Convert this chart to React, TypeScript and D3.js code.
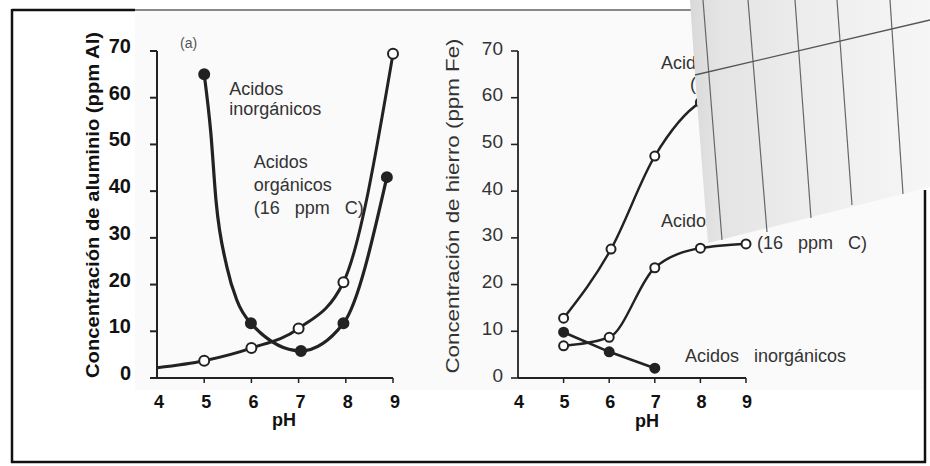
import * as d3 from 'd3';

const W = 930;
const H = 466;

const alInorgPH = [5, 5.14, 5.25, 5.48, 5.69, 5.99, 7.05, 7.95, 8.87];
const alInorg = [65, 52.5, 38, 23.8, 16.7, 11.7, 5.8, 11.7, 43];
const alInorgMarked = [true, false, false, false, false, true, true, true, true];
const alOrgPH = [4, 5, 6, 7, 7.95, 9];
const alOrg = [2.2, 3.7, 6.4, 10.6, 20.5, 69.4];
const alOrgMarked = [false, true, true, true, true, true];

// (b) hierro
const feOrgHighPH = [5, 6.04, 7, 8, 9];
const feOrgHigh = [12.8, 27.6, 47.5, 59, 62];
const feOrgLowPH = [5, 6, 7, 8, 9];
const feOrgLow = [6.9, 8.7, 23.6, 27.8, 28.7];
const feInorgPH = [5, 6, 7];
const feInorg = [9.8, 5.6, 2.1];

const xTicks = [4, 5, 6, 7, 8, 9];
const yTicks = [0, 10, 20, 30, 40, 50, 60, 70];

const FONT = '"Liberation Sans", Arial, Helvetica, sans-serif';
const INK = '#222';

type Pt = [number, number];
const zip = (xs: number[], ys: number[]): Pt[] => xs.map((x, i) => [x, ys[i]]);

export default function App() {
  const y = d3.scaleLinear().domain([0, 70]).range([378, 51]);
  const xL = d3.scaleLinear().domain([4, 9]).range([157, 393]);
  const xR = d3.scaleLinear().domain([4, 9]).range([518, 746]);

  const smooth = (x: d3.ScaleLinear<number, number>) =>
    d3.line<Pt>().x((d) => x(d[0])).y((d) => y(d[1])).curve(d3.curveMonotoneX);
  const straight = (x: d3.ScaleLinear<number, number>) =>
    d3.line<Pt>().x((d) => x(d[0])).y((d) => y(d[1]));

  const alInorgPts = zip(alInorgPH, alInorg);
  const alOrgPts = zip(alOrgPH, alOrg);
  const feHighPts = zip(feOrgHighPH, feOrgHigh);
  const feLowPts = zip(feOrgLowPH, feOrgLow);
  const feInorgPts = zip(feInorgPH, feInorg);

  const marker = (x: d3.ScaleLinear<number, number>, d: Pt, filled: boolean, key: string, r = 5) => (
    <circle
      key={key}
      cx={x(d[0])}
      cy={y(d[1])}
      r={r}
      fill={filled ? INK : '#fff'}
      stroke={INK}
      strokeWidth={2}
    />
  );

  const txt = { fontFamily: FONT, fill: '#333', whiteSpace: 'pre' as const };
  const bold = { ...txt, fill: '#111' };

  return (
    <svg width={W} height={H} style={{ position: 'fixed', left: 0, top: 0, background: '#fff' }}>
      <defs>
        <linearGradient id="paper" x1="0" x2="1" y1="0" y2="0">
          <stop offset="0" stopColor="#d9d9d9" />
          <stop offset="0.12" stopColor="#e4e4e4" />
          <stop offset="0.55" stopColor="#eeeeee" />
          <stop offset="1" stopColor="#f6f6f6" />
        </linearGradient>
      </defs>

      {/* faint scan tone */}
      <rect x={135} y={10} width={790} height={380} fill="#fafafa" />

      {/* frame */}
      <line x1={12} x2={135} y1={10} y2={10} stroke="#111" strokeWidth={2.5} />
      <line x1={135} x2={700} y1={10} y2={10} stroke="#888" strokeWidth={2} />
      <line x1={12} x2={12} y1={9} y2={463} stroke="#111" strokeWidth={2.5} />
      <line x1={11} x2={926} y1={462} y2={462} stroke="#111" strokeWidth={2.5} />
      <line x1={925} x2={925} y1={190} y2={463} stroke="#111" strokeWidth={2.5} />

      {/* ---------- panel (a) ---------- */}
      <g>
        <line x1={xL(4)} x2={xL(4)} y1={y(70)} y2={y(0)} stroke={INK} strokeWidth={2} />
        <line x1={xL(4)} x2={xL(9)} y1={y(0)} y2={y(0)} stroke={INK} strokeWidth={2} />
        {yTicks.map((t) => (
          <g key={t}>
            <line x1={xL(4) - 7} x2={xL(4)} y1={y(t)} y2={y(t)} stroke={INK} strokeWidth={2} />
            <text x={131} y={y(t) - 5} textAnchor="end" dominantBaseline="central" fontSize={20} fontWeight={700} style={bold}>
              {t}
            </text>
          </g>
        ))}
        {xTicks.map((t) => (
          <g key={t}>
            {t > 4 && <line x1={xL(t)} x2={xL(t)} y1={y(0)} y2={y(0) + 5} stroke={INK} strokeWidth={1.5} />}
            <text x={xL(t) + 2} y={408} textAnchor="middle" fontSize={18} fontWeight={700} style={bold}>
              {t}
            </text>
          </g>
        ))}
        <text x={284} y={426} textAnchor="middle" fontSize={18} fontWeight={700} style={bold}>
          pH
        </text>
        <text
          transform="translate(92,205) rotate(-90)"
          textAnchor="middle"
          dominantBaseline="central"
          fontSize={19}
          fontWeight={700}
          textLength={346}
          lengthAdjust="spacingAndGlyphs"
          style={bold}
        >
          Concentración de aluminio (ppm Al)
        </text>
        <text x={180} y={48} fontSize={14} style={{ ...txt, fill: '#555' }}>(a)</text>

        <path d={smooth(xL)(alOrgPts) ?? ''} fill="none" stroke={INK} strokeWidth={3} />
        <path d={smooth(xL)(alInorgPts) ?? ''} fill="none" stroke={INK} strokeWidth={3.2} />
        {alOrgPts.map((d, i) => (alOrgMarked[i] ? marker(xL, d, false, 'ao' + i) : null))}
        {alInorgPts.map((d, i) => (alInorgMarked[i] ? marker(xL, d, true, 'ai' + i) : null))}

        <text x={xL(5.53)} y={95} fontSize={18} style={txt}>Acidos</text>
        <text x={xL(5.53)} y={115} fontSize={18} style={txt}>inorgánicos</text>
        <text x={xL(6.05)} y={168} fontSize={18} style={txt}>Acidos</text>
        <text x={xL(6.05)} y={191} fontSize={18} style={txt}>orgánicos</text>
        <text x={xL(6.05)} y={214} fontSize={18} style={txt}>{'(16   ppm   C)'}</text>
      </g>

      {/* ---------- panel (b) ---------- */}
      <g>
        <line x1={xR(4)} x2={xR(4)} y1={y(70)} y2={y(0)} stroke={INK} strokeWidth={1.8} />
        <line x1={xR(4)} x2={xR(9)} y1={y(0)} y2={y(0)} stroke={INK} strokeWidth={1.8} />
        {yTicks.map((t) => (
          <g key={t}>
            <line x1={xR(4) - 7} x2={xR(4)} y1={y(t)} y2={y(t)} stroke={INK} strokeWidth={1.6} />
            <text x={503} y={y(t) - 3} textAnchor="end" dominantBaseline="central" fontSize={19} style={txt}>
              {t}
            </text>
          </g>
        ))}
        {xTicks.map((t) => (
          <g key={t}>
            {t > 4 && <line x1={xR(t)} x2={xR(t)} y1={y(0)} y2={y(0) + 5} stroke={INK} strokeWidth={1.5} />}
            <text x={xR(t) + 1} y={408} textAnchor="middle" fontSize={18} fontWeight={700} style={bold}>
              {t}
            </text>
          </g>
        ))}
        <text x={647} y={427} textAnchor="middle" fontSize={18} fontWeight={700} style={bold}>
          pH
        </text>
        <text
          transform="translate(453,206) rotate(-90)"
          textAnchor="middle"
          dominantBaseline="central"
          fontSize={18}
          textLength={335}
          lengthAdjust="spacingAndGlyphs"
          style={txt}
        >
          Concentración de hierro (ppm Fe)
        </text>

        <path d={smooth(xR)(feHighPts) ?? ''} fill="none" stroke={INK} strokeWidth={2.4} />
        <path d={smooth(xR)(feLowPts) ?? ''} fill="none" stroke={INK} strokeWidth={2.4} />
        <path d={straight(xR)(feInorgPts) ?? ''} fill="none" stroke={INK} strokeWidth={2.6} />
        {feHighPts.map((d, i) => marker(xR, d, false, 'fh' + i, 4.5))}
        {feLowPts.map((d, i) => marker(xR, d, false, 'fl' + i, 4.5))}
        {feInorgPts.map((d, i) => marker(xR, d, true, 'fi' + i, 4.5))}

        <text x={661} y={69} fontSize={18} style={txt}>Acidos orgánicos</text>
        <text x={690} y={90} fontSize={18} style={txt}>{'(32   ppm   C)'}</text>
        <text x={661} y={227} fontSize={18} style={txt}>Acidos</text>
        <text x={xR(9) + 11} y={249} fontSize={18} style={txt}>{'(16   ppm   C)'}</text>
        <text x={685} y={362} fontSize={18} style={txt}>{'Acidos   inorgánicos'}</text>
      </g>

      {/* pasted paper strip covering the top-right corner of the scan */}
      <polygon points="690,0 930,0 930,187 708,243 695,75" fill="url(#paper)" />
      {[
        [703, 722, 240],
        [748, 767, 232],
        [795, 811, 218],
        [837, 852, 205],
        [890, 903, 194],
      ].map(([a, b, e], i) => (
        <line key={i} x1={a} y1={0} x2={b} y2={e} stroke="#666" strokeWidth={1.2} />
      ))}
      <line x1={695} y1={75} x2={930} y2={20} stroke="#555" strokeWidth={1.3} />
    </svg>
  );
}
